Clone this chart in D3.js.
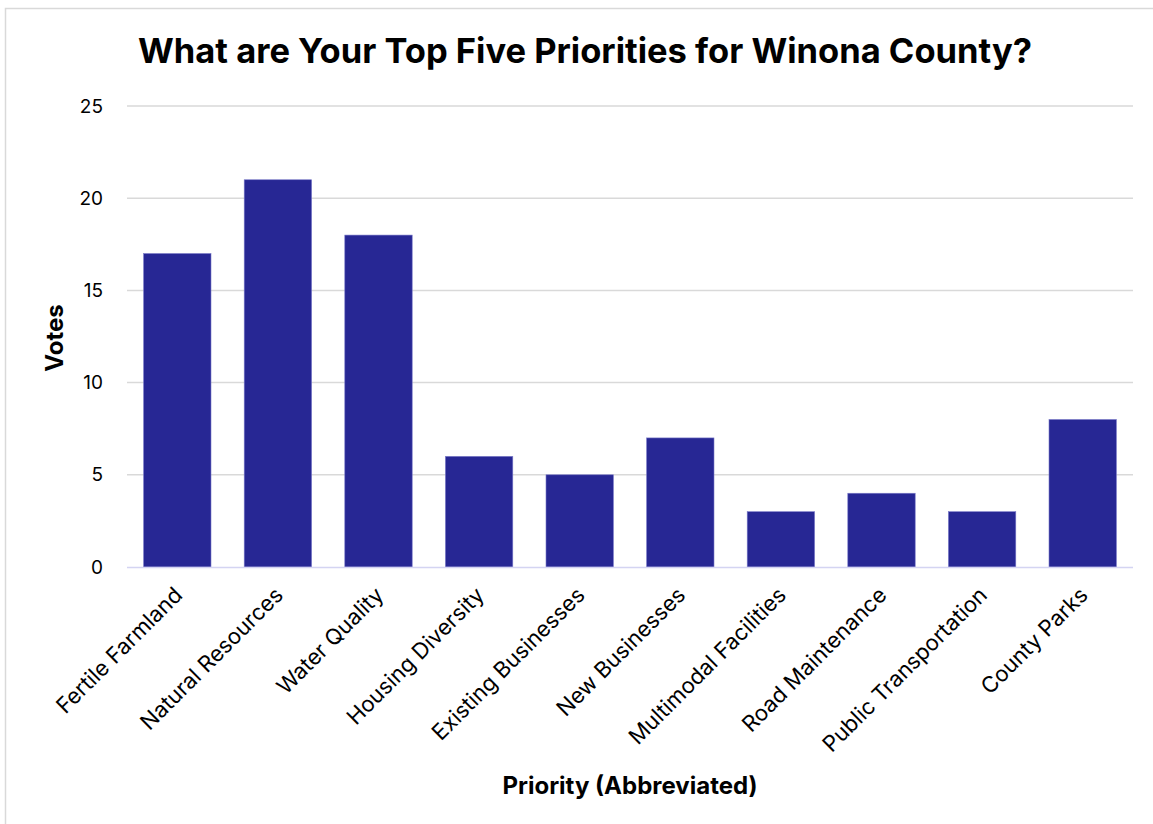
<!DOCTYPE html>
<html>
<head>
<meta charset="utf-8">
<script src="https://cdn.jsdelivr.net/npm/d3@7"></script>
<style>
    body { margin: 0; background: #fff; }
    svg { font-family: Inter, "Liberation Sans", sans-serif; }
</style>
</head>
<body>
<svg width="1153" height="824"></svg>
<script>
// data
var categories = ["Fertile Farmland", "Natural Resources", "Water Quality", "Housing Diversity",
    "Existing Businesses", "New Businesses", "Multimodal Facilities", "Road Maintenance",
    "Public Transportation", "County Parks"];
var votes = [17, 21, 18, 6, 5, 7, 3, 4, 3, 8];
var yTicks = [0, 5, 10, 15, 20, 25];

var svg = d3.select("svg");

// frame
svg.append("rect")
    .attr("x", 5.5).attr("y", 8.5)
    .attr("width", 1160).attr("height", 830)
    .attr("fill", "none")
    .attr("stroke", "#d9d9d9")
    .attr("stroke-width", 1.5);

var plotLeft = 127, plotRight = 1133, plotTop = 106, plotBottom = 567;

var x = d3.scaleBand()
    .domain(categories)
    .range([plotLeft, plotRight])
    .paddingInner(0.33)
    .paddingOuter(0.165);

var y = d3.scaleLinear()
    .domain([0, 25])
    .range([plotBottom, plotTop]);

// gridlines
svg.append("g")
    .selectAll("line")
    .data(yTicks.filter(function (d) { return d > 0; }))
    .enter()
    .append("line")
    .attr("x1", plotLeft).attr("x2", plotRight)
    .attr("y1", function (d) { return y(d); })
    .attr("y2", function (d) { return y(d); })
    .attr("stroke", "#d9d9d9")
    .attr("stroke-width", 1.5);

// y axis labels
var yAxis = d3.axisLeft(y).tickValues(yTicks).tickSize(0).tickPadding(24);
var yg = svg.append("g")
    .attr("transform", "translate(" + plotLeft + ",0)")
    .call(yAxis);
yg.select(".domain").remove();
yg.selectAll("text")
    .attr("font-size", 19)
    .attr("fill", "#000")
    .attr("font-family", "Inter, 'Liberation Sans', sans-serif");

// bars
svg.append("g")
    .selectAll("rect")
    .data(votes)
    .enter()
    .append("rect")
    .attr("x", function (d, i) { return x(categories[i]); })
    .attr("y", function (d) { return y(d); })
    .attr("width", x.bandwidth())
    .attr("height", function (d) { return y(0) - y(d); })
    .attr("fill", "#272794")
    .attr("stroke", "#7a7ac8")
    .attr("stroke-width", 0.6);

// baseline
svg.append("line")
    .attr("x1", plotLeft).attr("x2", plotRight)
    .attr("y1", plotBottom + 0.5).attr("y2", plotBottom + 0.5)
    .attr("stroke", "#d4d4f2")
    .attr("stroke-width", 1.5);

// x axis labels
var xAxis = d3.axisBottom(x).tickSize(0).tickPadding(0);
var xg = svg.append("g")
    .attr("transform", "translate(0," + plotBottom + ")")
    .call(xAxis);
xg.select(".domain").remove();
xg.selectAll("text")
    .attr("font-size", 22)
    .attr("fill", "#000")
    .attr("font-family", "Inter, 'Liberation Sans', sans-serif")
    .attr("text-anchor", "end")
    .attr("dy", "0.35em")
    .attr("transform", "translate(1,24) rotate(-45)");

// title
svg.append("text")
    .attr("x", 585).attr("y", 63)
    .attr("text-anchor", "middle")
    .attr("font-size", 34.5)
    .attr("font-weight", "bold")
    .text("What are Your Top Five Priorities for Winona County?");

// axis titles
svg.append("text")
    .attr("x", 630).attr("y", 794)
    .attr("text-anchor", "middle")
    .attr("font-size", 24)
    .attr("font-weight", "bold")
    .text("Priority (Abbreviated)");

svg.append("text")
    .attr("transform", "translate(63,338) rotate(-90)")
    .attr("text-anchor", "middle")
    .attr("font-size", 24)
    .attr("font-weight", "bold")
    .text("Votes");
</script>
</body>
</html>
